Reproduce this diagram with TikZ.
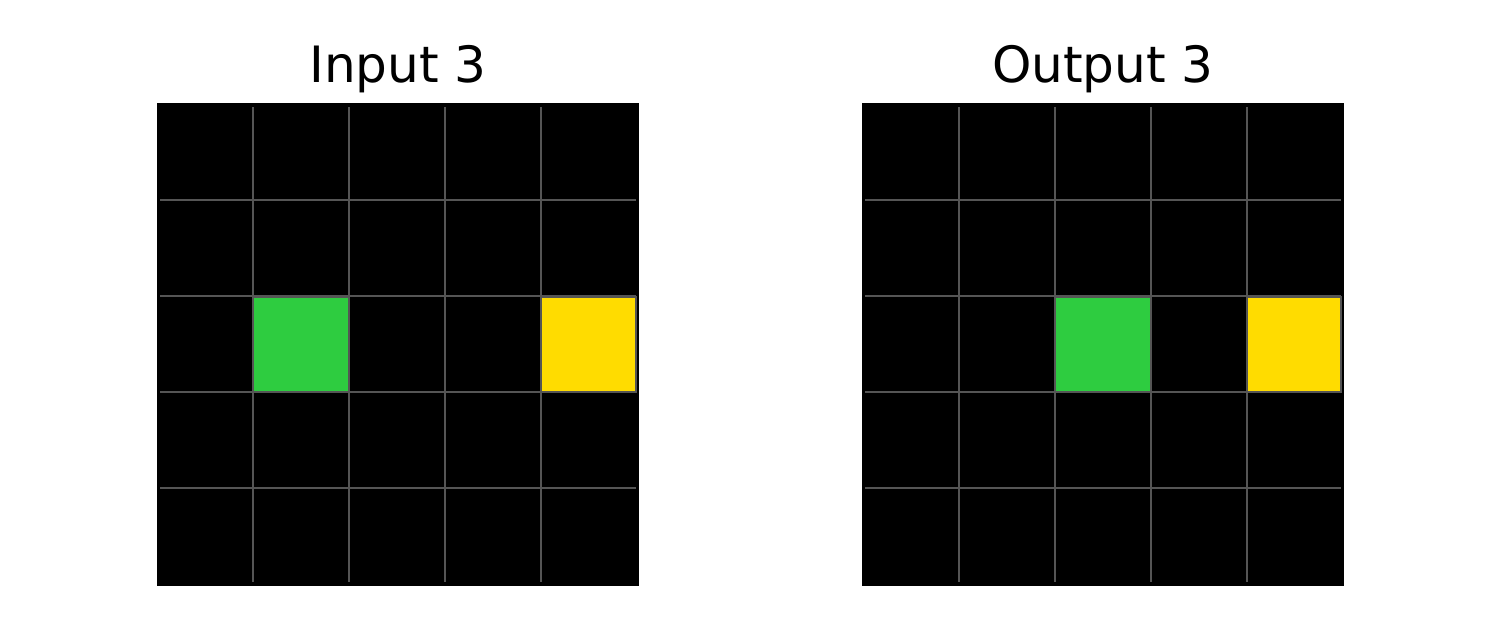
\documentclass[tikz,border=0pt]{standalone}
\usepackage{fontspec}
\setmainfont{DejaVu Sans}
\definecolor{arcgreen}{HTML}{2ECC40}
\definecolor{arcyellow}{HTML}{FFDC00}
\definecolor{gridgray}{HTML}{555555}
\tikzset{
  gridline/.style={gridgray,line width=1.1pt},
  cellbox/.style={draw=gridgray,line width=1.1pt},
  paneltitle/.style={anchor=base,font=\fontsize{28.5}{34}\selectfont}
}
\begin{document}
\begin{tikzpicture}[x=0.02cm,y=-0.02cm]
  \useasboundingbox (0,0) rectangle (1500,629);
  % two panels: black board, grid, title
  \foreach \ox/\gx/\txt/\nm in {157/157/Input 3/intitle,862/863/Output 3/outtitle} {
    \fill[black] (\ox,103) rectangle (\ox+482,586);
    \node[paneltitle] (\nm) at (\ox+241,82) {\txt};
    \foreach \k in {1,2,3,4} {
      \draw[gridline] (\gx+96*\k,107) -- (\gx+96*\k,582);
      \draw[gridline] (\ox+3,104+96*\k) -- (\ox+479,104+96*\k);
    }
  }
  % input cells
  \filldraw[cellbox,fill=arcgreen] (253,297) rectangle (349,392);
  \filldraw[cellbox,fill=arcyellow] (541,297) rectangle (636,392);
  % output cells
  \filldraw[cellbox,fill=arcgreen] (1055,297) rectangle (1151,392);
  \filldraw[cellbox,fill=arcyellow] (1247,297) rectangle (1341,392);
\end{tikzpicture}
\end{document}
